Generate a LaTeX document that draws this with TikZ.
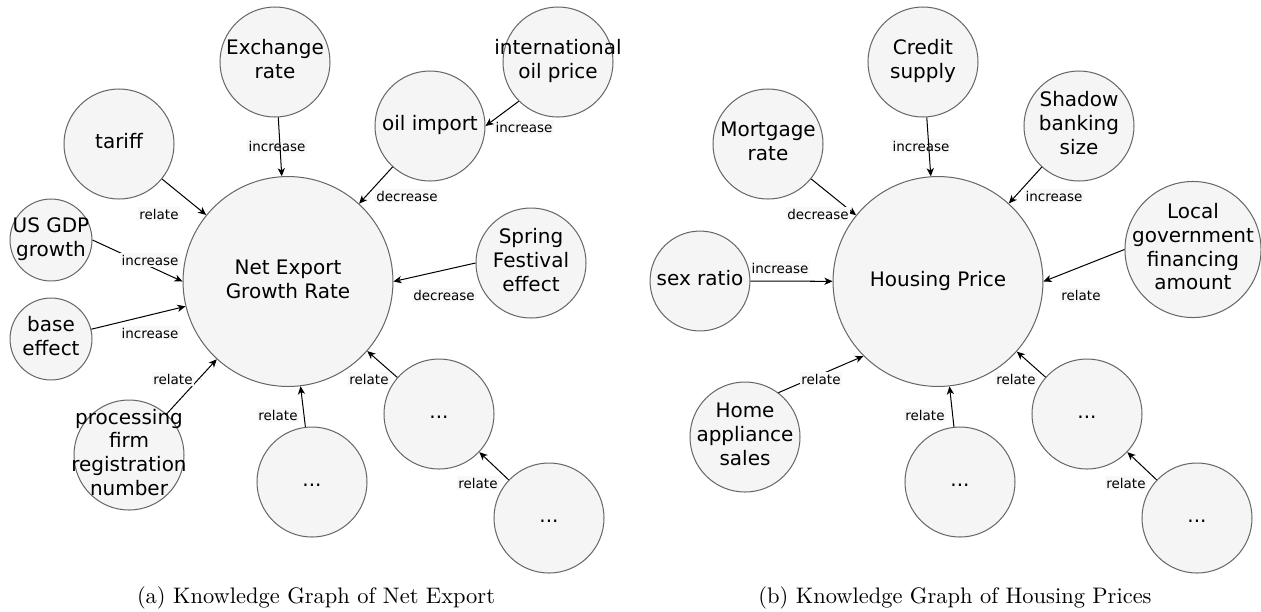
\documentclass[tikz,border=0pt]{standalone}
\usepackage{fontspec}
\usepackage{tikz}
\usetikzlibrary{arrows.meta}
\newfontfamily\drawfont{DejaVu Sans}
\definecolor{bubble}{HTML}{F5F5F5}
\definecolor{rim}{HTML}{666666}
\definecolor{tagbg}{HTML}{F8F8F8}
% centred lines that do not widen the circle
\newcommand{\inball}[1]{\makebox[0pt]{\begin{tabular}{@{}c@{}}#1\end{tabular}}}

\begin{document}
\begin{tikzpicture}[x=0.4454pt,y=-0.4454pt,
  ball/.style={circle,draw=rim,line width=0.45pt,fill=bubble,inner sep=0pt,
    minimum size=49pt,font=\drawfont\fontsize{8.9}{10.6}\selectfont},
  hub/.style={ball,minimum size=93.5pt},
  smallball/.style={ball,minimum size=36.5pt},
  rel/.style={-{Stealth[length=3.6pt,width=3.2pt,inset=1pt]},line width=0.45pt},
  tag/.style={fill=tagbg,inner sep=0.8pt,font=\drawfont\fontsize{6}{7}\selectfont}]
\useasboundingbox (0,0) rectangle (1261,611);

%% (a) net export
\node[hub] (net) at (288,281.5) {\inball{Net Export\\Growth Rate}};
\node[ball] (exch) at (275,62) {\inball{Exchange\\rate}};
\node[ball] (intoil) at (558,62) {\inball{international\\oil price}};
\node[ball] (oil) at (430,126) {\inball{oil import}};
\node[ball] (tariff) at (119,144) {\inball{tariff}};
\node[smallball] (gdp) at (51,240) {\inball{US GDP\\growth}};
\node[smallball] (base) at (51,339) {\inball{base\\effect}};
\node[ball] (spring) at (531,263) {\inball{Spring\\Festival\\effect}};
\node[ball] (proc) at (129,455) {\inball{processing\\firm\\registration\\number}};
\node[ball] (moreA) at (312,482) {\inball{...}};
\node[ball] (moreB) at (439,414) {\inball{...}};
\node[ball] (moreC) at (549,518) {\inball{...}};

%% (b) housing price
\node[hub] (house) at (938,281.5) {\inball{Housing Price}};
\node[ball] (credit) at (923,62) {\inball{Credit\\supply}};
\node[ball] (mort) at (768,144) {\inball{Mortgage\\rate}};
\node[ball] (shadow) at (1079,126) {\inball{Shadow\\banking\\size}};
\node[ball,minimum size=44.5pt] (sex) at (700,281) {\inball{sex ratio}};
\node[ball,minimum size=60.6pt] (local) at (1193,249.5) {\inball{Local\\government\\financing\\amount}};
\node[ball] (home) at (745,437) {\inball{Home\\appliance\\sales}};
\node[ball] (moreD) at (960,482) {\inball{...}};
\node[ball] (moreE) at (1087,414) {\inball{...}};
\node[ball] (moreF) at (1197,518) {\inball{...}};

% these two labels sit under their line
\node[tag] (t-exch) at (277,146) {increase};
\node[tag] (t-credit) at (921,146) {increase};

\draw[rel] (exch) -- (net);
\draw[rel] (intoil.225) -- (oil.east);
\draw[rel] (oil) -- (net);
\draw[rel] (tariff) -- (net);
\draw[rel] (gdp.east) -- (net.west);
\draw[rel] (base) -- (net);
\draw[rel] (spring.west) -- (net.east);
\draw[rel] (proc) -- (net);
\draw[rel] (moreA) -- (net);
\draw[rel] (moreB) -- (net);
\draw[rel] (moreC) -- (moreB);

\draw[rel] (credit) -- (house);
\draw[rel] (mort) -- (house);
\draw[rel] (shadow) -- (house);
\draw[rel] (sex) -- (house);
\draw[rel] (local.west) -- (house.east);
\draw[rel] (home.53) -- (house.225);
\draw[rel] (moreD) -- (house);
\draw[rel] (moreE) -- (house);
\draw[rel] (moreF) -- (moreE);

\node[tag] (t-intoil) at (524,127) {increase};
\node[tag] (t-oil) at (407,196) {decrease};
\node[tag] (t-tariff) at (159,214) {relate};
\node[tag] (t-gdp) at (150,260) {increase};
\node[tag] (t-base) at (150,333) {increase};
\node[tag] (t-spring) at (444,295) {decrease};
\node[tag] (t-proc) at (173,379) {relate};
\node[tag] (t-moreA) at (278,415) {relate};
\node[tag] (t-moreB) at (369,379) {relate};
\node[tag] (t-moreC) at (478,483) {relate};

\node[tag] (t-mort) at (818,214) {decrease};
\node[tag] (t-shadow) at (1054,196) {increase};
\node[tag] (t-sex) at (780,268) {increase};
\node[tag] (t-local) at (1081,295) {relate};
\node[tag] (t-home) at (821,379) {relate};
\node[tag] (t-moreD) at (925,415) {relate};
\node[tag] (t-moreE) at (1016,379) {relate};
\node[tag] (t-moreF) at (1126,483) {relate};

\node (cap-a) at (316,598) {(a) Knowledge Graph of Net Export};
\node (cap-b) at (955,598) {(b) Knowledge Graph of Housing Prices};
\end{tikzpicture}
\end{document}
